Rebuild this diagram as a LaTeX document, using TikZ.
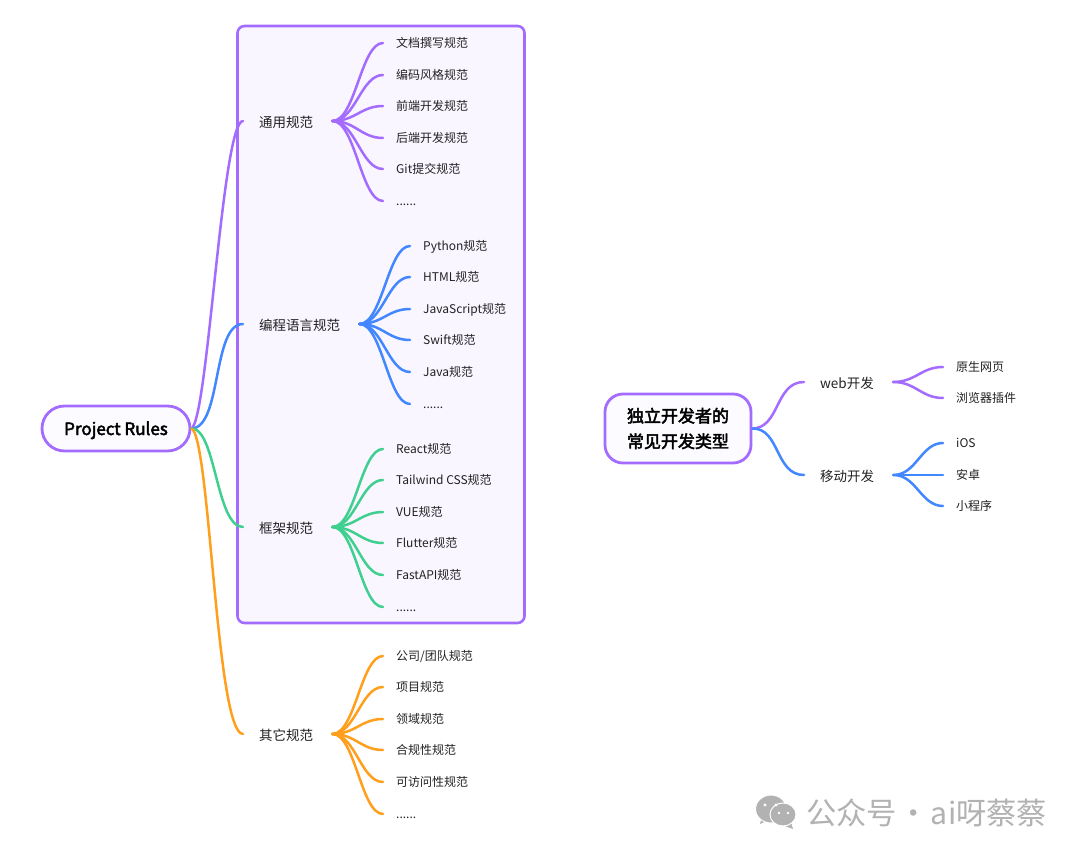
\documentclass[tikz,border=0pt]{standalone}
\usepackage{fontspec}
\setmainfont{Noto Sans CJK SC}
\newcommand{\heavier}[1]{\special{pdf:code q 2 Tr 0.45 w 0 0 0 RG}#1\special{pdf:code Q}}
\definecolor{cpurple}{HTML}{A36CFF}
\definecolor{cblue}{HTML}{4287FF}
\definecolor{cgreen}{HTML}{3FCF8E}
\definecolor{corange}{HTML}{FF9F1C}
\definecolor{cbox}{HTML}{F9F6FF}
\definecolor{ctext}{HTML}{222222}
\definecolor{cmark}{HTML}{B2B2B2}
\tikzset{
  rootbox/.style={draw=cpurple,line width=2.8pt,fill=white!97!cpurple,text=black,inner sep=0pt,align=center,font=\fontsize{17}{25.5}\selectfont},
  midnode/.style={anchor=west,inner xsep=16pt,inner ysep=0pt,text height=14.5pt,text depth=1.8pt,text=ctext,font=\fontsize{13.5}{16}\selectfont},
  leafnode/.style={anchor=west,inner xsep=13pt,inner ysep=0pt,text height=11.3pt,text depth=1.5pt,text=ctext,font=\fontsize{12}{14}\selectfont},
  rootedge/.style={line width=2.5pt,line cap=round},
  leafedge/.style={line width=2.5pt,line cap=round},
  markicon/.style={fill=cmark,draw=white,line width=1pt},
  marktext/.style={text=cmark,anchor=west,inner sep=0pt,font=\fontsize{30.3}{34}\selectfont},
}
% \myleaf{hub node}{name}{x of line end}{y}{colour}{text}
\newcommand{\myleaf}[6]{%
  \node[leafnode] (#2) at (#3,#4) {#6};
  \draw[leafedge,#5] ([xshift=3pt]#1.east) .. controls ([xshift=26pt]#1.east) and ([xshift=-22pt]#2.west) .. (#2.west);
}
\begin{document}
\begin{tikzpicture}[x=1pt,y=-1pt]
\useasboundingbox (0,0) rectangle (1080,856);
\fill[white] (0,0) rectangle (1080,856);
\draw[draw=cpurple,line width=2.6pt,fill=cbox,rounded corners=7pt] (237.5,26) rectangle (524.5,623);

\node[rootbox,minimum width=148pt,minimum height=45pt,rounded corners=22.5pt,text height=13pt,text depth=0pt] (root) at (116,428.5) {\heavier{Project Rules}};
\node[midnode] (a) at (243,121) {通用规范};
\node[midnode] (b) at (243,324) {编程语言规范};
\node[midnode] (c) at (243,527) {框架规范};
\node[midnode] (d) at (243,734) {其它规范};
\draw[rootedge,cpurple] (root.east) .. controls (208,420) and (222,121) .. (a.west);
\draw[rootedge,cblue] (root.east) .. controls (222,428) and (212,324) .. (b.west);
\draw[rootedge,cgreen] (root.east) .. controls (216,428) and (216,527) .. (c.west);
\draw[rootedge,corange] (root.east) .. controls (210,436) and (216,734) .. (d.west);

\myleaf{a}{a1}{383}{43}{cpurple}{文档撰写规范}
\myleaf{a}{a2}{383}{75}{cpurple}{编码风格规范}
\myleaf{a}{a3}{383}{106}{cpurple}{前端开发规范}
\myleaf{a}{a4}{383}{138}{cpurple}{后端开发规范}
\myleaf{a}{a5}{383}{169}{cpurple}{Git提交规范}
\myleaf{a}{a6}{383}{201}{cpurple}{......}
\myleaf{b}{b1}{410}{246}{cblue}{Python规范}
\myleaf{b}{b2}{410}{277}{cblue}{HTML规范}
\myleaf{b}{b3}{410}{309}{cblue}{JavaScript规范}
\myleaf{b}{b4}{410}{340}{cblue}{Swift规范}
\myleaf{b}{b5}{410}{372}{cblue}{Java规范}
\myleaf{b}{b6}{410}{404}{cblue}{......}
\myleaf{c}{c1}{383}{449}{cgreen}{React规范}
\myleaf{c}{c2}{383}{480}{cgreen}{Tailwind CSS规范}
\myleaf{c}{c3}{383}{512}{cgreen}{VUE规范}
\myleaf{c}{c4}{383}{543}{cgreen}{Flutter规范}
\myleaf{c}{c5}{383}{575}{cgreen}{FastAPI规范}
\myleaf{c}{c6}{383}{607}{cgreen}{......}
\myleaf{d}{d1}{383}{656}{corange}{公司/团队规范}
\myleaf{d}{d2}{383}{687}{corange}{项目规范}
\myleaf{d}{d3}{383}{719}{corange}{领域规范}
\myleaf{d}{d4}{383}{750}{corange}{合规性规范}
\myleaf{d}{d5}{383}{782}{corange}{可访问性规范}
\myleaf{d}{d6}{383}{814}{corange}{......}

\node[rootbox,minimum width=146pt,minimum height=69pt,rounded corners=18pt] (r2) at (678,428.5) {\heavier{独立开发者的}\\\heavier{常见开发类型}};
\node[midnode] (w) at (804,382) {web开发};
\node[midnode] (m) at (804,475) {移动开发};
\draw[rootedge,cpurple] (r2.east) .. controls (780,428) and (775,382) .. (w.west);
\draw[rootedge,cblue] (r2.east) .. controls (780,428) and (775,475) .. (m.west);
\myleaf{w}{w1}{943}{367}{cpurple}{原生网页}
\myleaf{w}{w2}{943}{398}{cpurple}{浏览器插件}
\myleaf{m}{m1}{943}{443}{cblue}{iOS}
\myleaf{m}{m2}{943}{475}{cblue}{安卓}
\myleaf{m}{m3}{943}{506}{cblue}{小程序}

% watermark
\fill[cmark] (762,816) -- (760,824) -- (769,820) -- cycle;
\fill[markicon] (771,809) ellipse (15.5pt and 14pt);
\fill[cmark] (791,822) -- (793,829) -- (785,826) -- cycle;
\fill[markicon] (783,814.5) ellipse (13pt and 11.5pt);
\fill[white] (765,805) circle (1.6pt) (776,805) circle (1.6pt) (779,813) circle (1.4pt) (788,813) circle (1.4pt);
\node[marktext] (wm) at (806,813) {公众号\hspace{-5pt} · \hspace{-5pt}ai呀蔡蔡};
\end{tikzpicture}
\end{document}
